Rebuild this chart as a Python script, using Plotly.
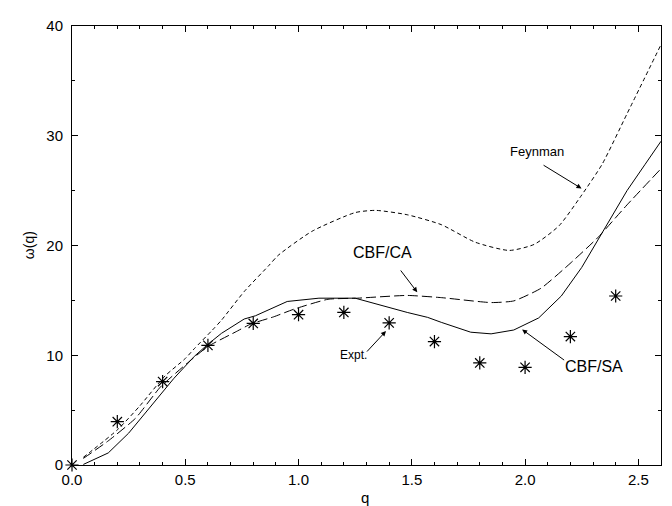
import plotly.graph_objects as go

# CBF/SA (solid)
sa_q = [0.05, 0.16, 0.25, 0.35, 0.45, 0.54, 0.60, 0.66, 0.76, 0.81, 0.95, 1.09, 1.25,
        1.48, 1.57, 1.63, 1.76, 1.85, 1.95, 2.06, 2.16, 2.25, 2.35, 2.45, 2.53, 2.60]
sa_w = [0.05, 1.1, 2.9, 5.4, 7.9, 9.9, 11.0, 12.0, 13.3, 13.6, 14.9, 15.2, 15.2,
        13.9, 13.45, 13.0, 12.1, 11.95, 12.3, 13.4, 15.4, 18.0, 21.5, 25.0, 27.4, 29.5]

# CBF/CA (long dash)
ca_q = [0.05, 0.16, 0.28, 0.39, 0.51, 0.60, 0.72, 0.79, 0.89, 0.98, 1.13, 1.26, 1.48,
        1.63, 1.85, 1.95, 2.07, 2.19, 2.32, 2.45, 2.60]
ca_w = [0.6, 2.2, 4.25, 7.1, 9.3, 10.8, 12.1, 12.85, 13.5, 14.2, 15.1, 15.2, 15.45,
        15.25, 14.8, 14.95, 16.1, 18.2, 20.7, 23.7, 27.0]

# Feynman (short dash)
fe_q = [0.05, 0.20, 0.30, 0.41, 0.50, 0.54, 0.62, 0.66, 0.76, 0.87, 0.91, 1.06, 1.25,
        1.34, 1.48, 1.63, 1.78, 1.93, 2.04, 2.15, 2.25, 2.34, 2.45, 2.60]
fe_w = [0.7, 3.2, 5.4, 8.1, 9.7, 10.6, 12.3, 13.2, 15.8, 18.2, 19.1, 21.3, 23.0,
        23.2, 22.8, 21.9, 20.3, 19.55, 20.1, 21.8, 24.6, 27.4, 32.0, 38.3]

# Experiment (stars)
ex_q = [0.0, 0.2, 0.4, 0.6, 0.8, 1.0, 1.2, 1.4, 1.6, 1.8, 2.0, 2.2, 2.4]
ex_w = [0.0, 3.95, 7.6, 10.9, 12.9, 13.7, 13.9, 12.95, 11.25, 9.3, 8.9, 11.7, 15.4]

x_ticks = [0.0, 0.5, 1.0, 1.5, 2.0, 2.5]
y_ticks = [0, 10, 20, 30, 40]

FONT = "Liberation Sans, Arial, Helvetica, sans-serif"

fig = go.Figure()
fig.add_trace(go.Scatter(x=fe_q, y=fe_w, mode="lines", line_shape="spline",
                         line=dict(color="black", width=1, dash="4px,3px", smoothing=0.6)))
fig.add_trace(go.Scatter(x=ca_q, y=ca_w, mode="lines", line_shape="spline",
                         line=dict(color="black", width=1, dash="10px,4px", smoothing=0.5)))
fig.add_trace(go.Scatter(x=sa_q, y=sa_w, mode="lines",
                         line=dict(color="black", width=1)))
fig.add_trace(go.Scatter(x=ex_q, y=ex_w, mode="markers", cliponaxis=False,
                         marker=dict(symbol="asterisk-open", size=11, color="black",
                                     line=dict(color="black", width=1.2))))

# labels: (text, x, y, size, arrow head x, y, tail x, y)
labels = [
    ("Feynman", 2.052, 28.6, 13, 2.249, 25.2, 2.075, 27.4),
    ("CBF/CA", 1.372, 19.34, 16, 1.524, 15.74, 1.446, 17.86),
    ("Expt.", 1.244, 10.05, 12, 1.386, 12.2, 1.296, 10.2),
    ("CBF/SA", 2.304, 9.02, 16, 1.987, 12.35, 2.179, 9.46),
]
for t, tx, ty, fs, hx, hy, ax_, ay_ in labels:
    fig.add_annotation(x=tx, y=ty, text=t, showarrow=False,
                       font=dict(family=FONT, size=fs, color="black"))
    fig.add_annotation(x=hx, y=hy, ax=ax_, ay=ay_, axref="x", ayref="y",
                       text="", showarrow=True, arrowhead=2, arrowsize=1,
                       arrowwidth=1, arrowcolor="black")

# axis titles
fig.add_annotation(xref="paper", yref="paper", x=0.498, y=-0.075, yanchor="middle",
                   text="q", showarrow=False,
                   font=dict(family=FONT, size=15, color="black"))
fig.add_annotation(xref="paper", yref="paper", x=-0.0735, y=0.5, xanchor="center",
                   yanchor="middle", text="ω(q)", textangle=-90, showarrow=False,
                   font=dict(family=FONT, size=14, color="black"))

axis_common = dict(showgrid=False, zeroline=False, showline=True, linecolor="black",
                   linewidth=1, mirror="ticks", ticks="inside", ticklen=6,
                   tickcolor="black", tickwidth=1,
                   tickfont=dict(family=FONT, size=15, color="black"))

fig.update_xaxes(range=[0, 2.6], tickvals=x_ticks,
                 ticktext=[f"{v:.1f}" for v in x_ticks],
                 minor=dict(dtick=0.1, tick0=0, ticks="inside", ticklen=3,
                            tickcolor="black", showgrid=False),
                 ticklabelstandoff=1,
                 **axis_common)
fig.update_yaxes(range=[0, 40], tickvals=y_ticks,
                 ticktext=[str(v) for v in y_ticks],
                 minor=dict(dtick=5, tick0=0, ticks="inside", ticklen=3,
                            tickcolor="black", showgrid=False),
                 ticklabelstandoff=5,
                 **axis_common)

fig.update_layout(width=672, height=506, showlegend=False,
                  plot_bgcolor="white", paper_bgcolor="white",
                  margin=dict(l=64, r=19, t=9, b=49),
                  font=dict(family=FONT, color="black"))

fig.write_html("out.html")
